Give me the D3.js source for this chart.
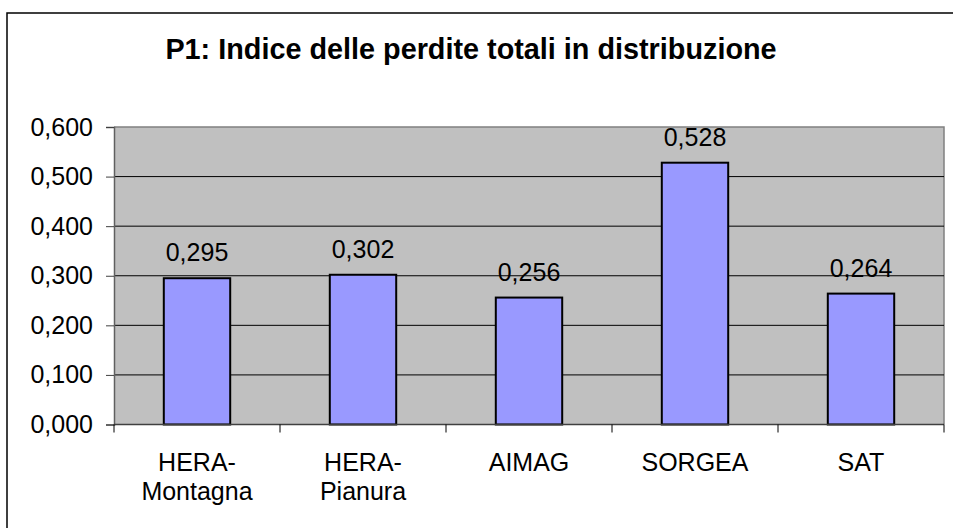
<!DOCTYPE html>
<html><head><meta charset="utf-8">
<script src="https://cdn.jsdelivr.net/npm/d3@7"></script>
<style>body{margin:0;background:#fff}svg{display:block}text{font-family:"Liberation Sans",Arial,sans-serif}</style>
</head><body>
<script>
const title = "P1: Indice delle perdite totali in distribuzione";
const categories = [["HERA-","Montagna"],["HERA-","Pianura"],["AIMAG"],["SORGEA"],["SAT"]];
const values = [0.295, 0.302, 0.256, 0.528, 0.264];
const yTicks = [0, 0.1, 0.2, 0.3, 0.4, 0.5, 0.6];

const W = 953, H = 528;
const m = {left:114, top:127, right:944, bottom:424.5};
const svg = d3.select("body").append("svg").attr("width", W).attr("height", H);

svg.append("rect").attr("x",7).attr("y",13).attr("width",W).attr("height",H)
  .attr("fill","#fff").attr("stroke","#000").attr("stroke-width",1.5);

svg.append("text").attr("x",471).attr("y",59).attr("text-anchor","middle")
  .attr("font-size",28.8).attr("font-weight","bold").text(title);

const x = d3.scaleBand().domain(d3.range(categories.length)).range([m.left, m.right]).paddingInner(0.6).paddingOuter(0.3);
const y = d3.scaleLinear().domain([0,0.6]).range([m.bottom, m.top]);

svg.append("rect").attr("x",m.left).attr("y",m.top).attr("width",m.right-m.left).attr("height",m.bottom-m.top)
  .attr("fill","#C0C0C0");
svg.append("path").attr("d",`M${m.left},${m.top}H${m.right}V${m.bottom}`).attr("fill","none").attr("stroke","#808080").attr("stroke-width",1.5);

svg.append("g").selectAll("line").data(yTicks.slice(1,-1)).join("line")
  .attr("x1",m.left).attr("x2",m.right).attr("y1",d=>y(d)).attr("y2",d=>y(d)).attr("stroke","#000").attr("stroke-width",1);

const fmt = d => d3.format(".3f")(d).replace(".",",");
const yAxis = svg.append("g").attr("transform",`translate(${m.left},0)`)
  .call(d3.axisLeft(y).tickValues(yTicks).tickFormat(fmt).tickSize(8).tickPadding(13));
yAxis.select(".domain").attr("stroke","#606060").attr("stroke-width",1.5);
yAxis.selectAll(".tick line").attr("stroke","#404040");
yAxis.selectAll("text").attr("font-size",25).attr("fill","#000").attr("font-family","Liberation Sans, Arial, sans-serif");

svg.append("g").selectAll("rect").data(values).join("rect")
  .attr("x",(d,i)=>x(i)).attr("width",x.bandwidth()).attr("y",d=>y(d)).attr("height",d=>y(0)-y(d))
  .attr("fill","#9999FF").attr("stroke","#000").attr("stroke-width",2);

svg.append("g").selectAll("text").data(values).join("text")
  .attr("x",(d,i)=>x(i)+x.bandwidth()/2).attr("y",d=>y(d)-17).attr("text-anchor","middle")
  .attr("font-size",25).text(fmt);

const step = (m.right-m.left)/categories.length;
const xg = svg.append("g");
xg.append("line").attr("x1",m.left).attr("x2",m.right).attr("y1",m.bottom).attr("y2",m.bottom).attr("stroke","#404040").attr("stroke-width",1.5);
xg.selectAll(".tk").data(d3.range(categories.length+1)).join("line")
  .attr("x1",i=>m.left+i*step).attr("x2",i=>m.left+i*step).attr("y1",m.bottom).attr("y2",m.bottom+8).attr("stroke","#000");
categories.forEach((c,i)=>{
  const t = xg.append("text").attr("x",x(i)+x.bandwidth()/2).attr("y",471).attr("text-anchor","middle").attr("font-size",25);
  c.forEach((line,j)=>t.append("tspan").attr("x",x(i)+x.bandwidth()/2).attr("dy",j?29:0).text(line));
});
</script>
</body></html>
